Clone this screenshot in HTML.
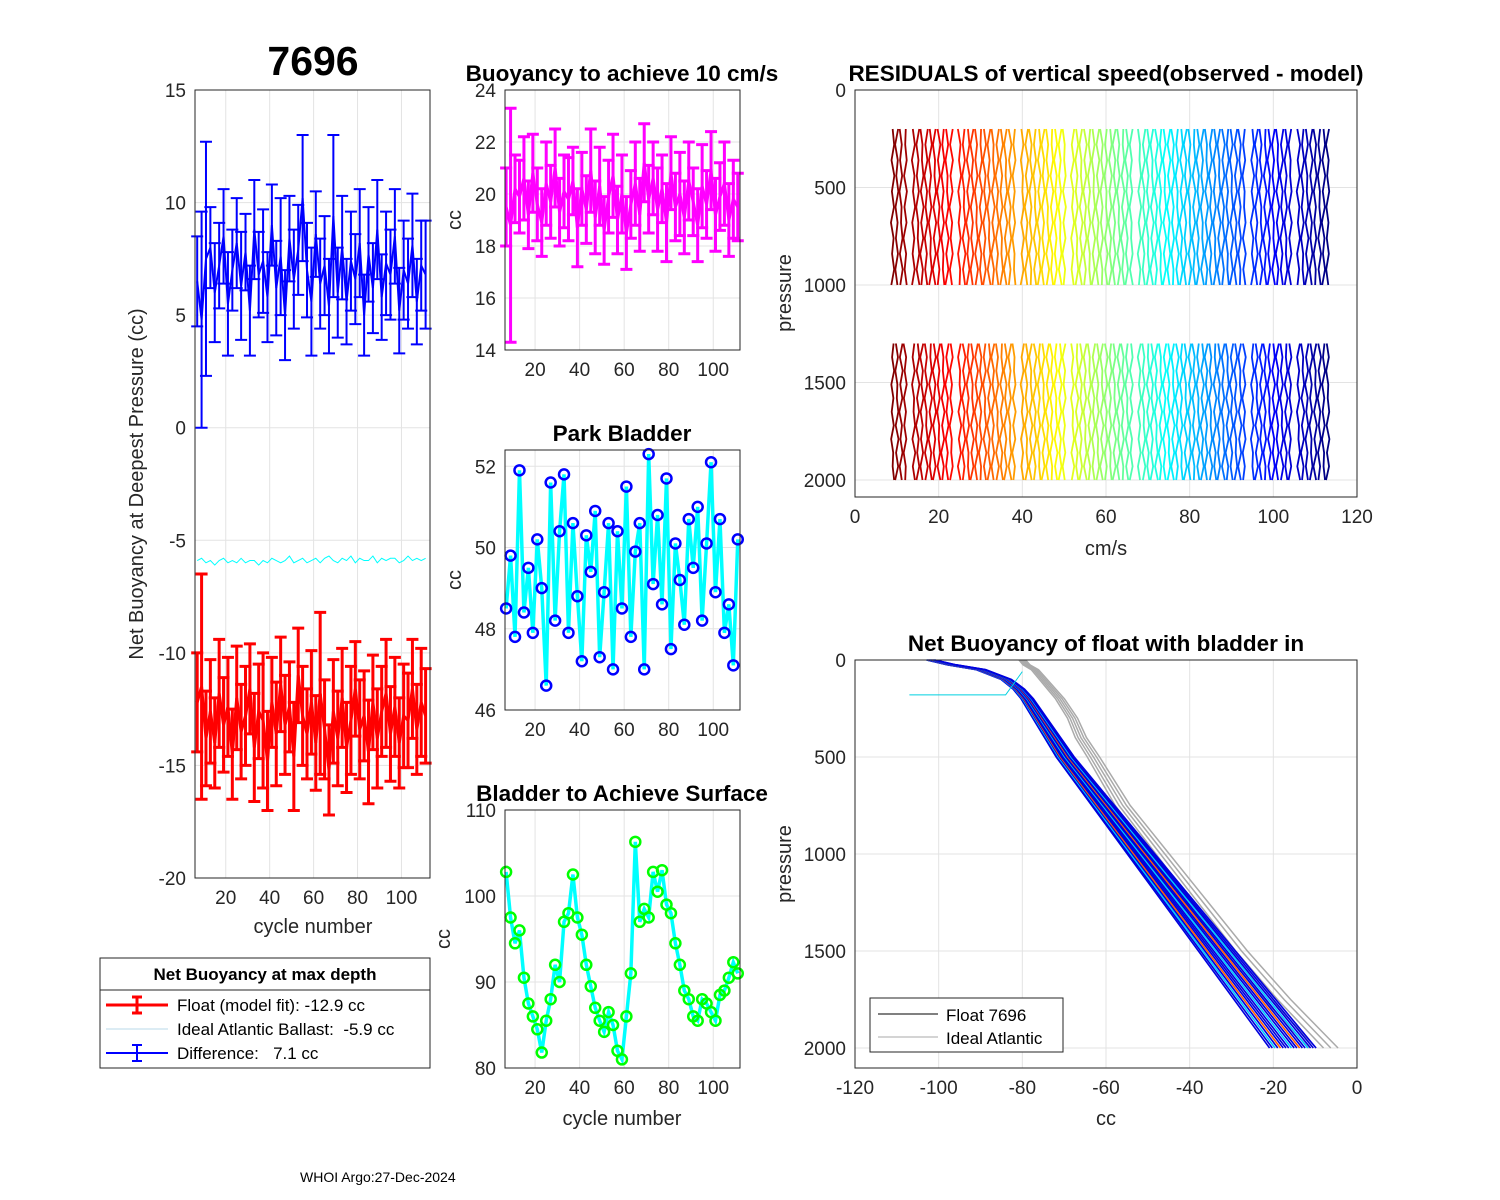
<!DOCTYPE html>
<html><head><meta charset="utf-8"><style>
html,body{margin:0;padding:0;background:#fff;}
svg{display:block;font-family:"Liberation Sans",Arial,sans-serif;}
.pre{white-space:pre;}
</style></head><body>
<svg id="fig" width="1500" height="1200" viewBox="0 0 1500 1200"></svg>
<script>
// ---------- DATA ----------
const cycles = [7,9,11,13,15,17,19,21,23,25,27,29,31,33,35,37,39,41,43,45,47,49,51,53,55,57,59,61,63,65,67,69,71,73,75,77,79,81,83,85,87,89,91,93,95,97,99,101,103,105,107,109,111];
const diffVals = [6.5,4.8,7.5,8.0,6.0,7.2,8.5,5.5,7.0,8.2,6.3,7.8,5.2,8.8,6.8,7.4,5.8,9.0,6.2,7.6,5.0,8.4,6.6,7.9,10.2,7.0,5.6,8.6,6.4,7.2,5.4,9.4,6.0,8.0,5.6,7.4,6.6,8.2,5.0,7.7,6.2,8.8,5.8,7.3,6.8,8.5,5.2,7.0,6.4,8.1,5.6,7.2,6.8];
const diffErr = [2.0,4.8,5.2,1.8,2.2,1.9,2.1,2.3,1.8,2.0,2.4,1.7,2.0,2.2,1.9,2.3,2.0,1.8,2.1,2.6,2.0,1.9,2.2,2.0,2.8,2.1,2.4,1.9,2.0,2.2,2.1,3.6,2.0,2.3,1.9,2.2,2.0,2.4,1.8,2.1,2.0,2.2,1.9,2.3,2.0,2.1,1.9,2.2,2.0,2.3,1.9,2.0,2.4];
const floatVals = [-12.2,-11.5,-13.8,-12.6,-14.0,-11.8,-13.2,-12.4,-14.5,-12.0,-13.5,-12.8,-11.6,-14.2,-12.6,-13.0,-14.8,-12.2,-13.6,-11.4,-13.2,-12.4,-14.6,-11.0,-12.8,-13.6,-12.2,-14.0,-11.8,-13.4,-15.2,-12.6,-13.8,-12.0,-14.2,-13.0,-11.6,-13.4,-12.8,-14.4,-12.2,-13.8,-12.6,-11.8,-13.6,-12.4,-14.0,-12.8,-13.0,-11.6,-13.4,-12.2,-12.8];
const floatErr = [2.2,5.0,2.1,2.3,2.0,2.4,2.1,2.2,2.0,2.3,2.1,2.2,2.0,2.4,2.1,3.0,2.2,2.0,2.3,2.1,2.2,2.0,2.4,2.1,2.2,2.0,2.3,2.1,3.6,2.2,2.0,2.3,2.1,2.2,2.0,2.4,2.1,2.2,2.0,2.3,2.1,2.2,2.0,2.4,2.1,2.2,2.0,2.3,2.1,2.2,2.0,2.4,2.1];
const idealVals = [-5.9,-5.8,-6.0,-5.9,-6.1,-5.9,-5.8,-6.0,-5.9,-6.0,-5.8,-6.0,-5.9,-5.9,-6.1,-5.9,-6.0,-5.8,-5.9,-6.0,-5.9,-5.7,-6.0,-5.9,-5.8,-6.0,-5.9,-5.8,-6.0,-5.8,-5.7,-5.9,-6.0,-5.8,-5.9,-5.7,-6.0,-5.8,-5.9,-5.9,-5.7,-6.0,-5.8,-5.9,-5.8,-5.8,-6.0,-5.9,-5.7,-5.9,-5.8,-5.9,-5.8];
const speedVals = [19.5,18.8,20.2,19.9,20.6,19.2,20.8,19.6,18.9,20.4,19.7,21.0,19.3,20.1,19.8,20.5,18.7,20.2,19.4,20.9,19.1,20.3,18.6,19.9,20.7,19.0,20.0,18.5,19.6,20.4,19.2,21.2,19.8,20.6,19.4,20.2,18.9,20.8,19.5,20.0,19.1,20.5,19.7,18.8,20.3,19.6,20.9,19.2,19.9,20.4,19.0,19.8,19.5];
const speedErr = [1.5,4.5,1.3,1.4,1.6,1.3,1.5,1.4,1.3,1.6,1.4,1.5,1.3,1.4,1.6,1.3,1.5,1.4,1.3,1.6,1.4,1.5,1.3,1.4,1.6,1.3,1.5,1.4,1.3,1.6,1.4,1.5,1.3,1.4,1.6,1.3,1.5,1.4,1.3,1.6,1.4,1.5,1.3,1.4,1.6,1.3,1.5,1.4,1.3,1.6,1.4,1.5,1.3];
const parkVals = [48.5,49.8,47.8,51.9,48.4,49.5,47.9,50.2,49.0,46.6,51.6,48.2,50.4,51.8,47.9,50.6,48.8,47.2,50.3,49.4,50.9,47.3,48.9,50.6,47.0,50.4,48.5,51.5,47.8,49.9,50.6,47.0,52.3,49.1,50.8,48.6,51.7,47.5,50.1,49.2,48.1,50.7,49.5,51.0,48.2,50.1,52.1,48.9,50.7,47.9,48.6,47.1,50.2];
const surfVals = [102.8,97.5,94.5,96.0,90.5,87.5,86.0,84.5,81.8,85.5,88.0,92.0,90.0,97.0,98.0,102.5,97.5,95.5,92.0,89.5,87.0,85.5,84.2,86.5,85.0,82.0,81.0,86.0,91.0,106.3,97.0,98.5,97.5,102.8,100.5,103.0,99.0,98.0,94.5,92.0,89.0,88.0,86.0,85.5,88.0,87.5,86.5,85.5,88.5,89.0,90.5,92.3,91.0];
// residuals panel
const resCycles = [9,10,11,12,14,15,16,17,18,19,20,21,22,23,25,26,27,28,29,30,31,32,33,34,35,36,37,38,40,41,42,43,44,45,46,47,48,49,50,52,53,54,55,56,57,58,59,60,61,62,63,64,65,66,68,69,70,71,72,73,74,75,76,77,78,79,80,81,82,83,84,85,86,87,88,89,90,91,92,93,95,96,97,98,99,100,101,102,103,104,106,107,108,109,110,111,112,113];
const resPresA = [200,280,360,440,520,600,680,760,840,920,1000];
const resPresB = [1300,1370,1440,1510,1580,1650,1720,1790,1860,1930,2000];
const resWiggle = [0,0.8,-0.6,0.9,-0.4,0.7,-0.9,0.5,-0.3,0.8,-0.7,0.4,-0.5,0.6,-0.8,0.3];
// net buoyancy profile panel
const profPres = [0,25,50,100,150,200,300,400,500,750,1000,1250,1500,1750,2000];
const floatCC = [-102,-97,-90,-84,-81,-79,-76,-73,-70,-61,-52,-43,-34,-25,-16];
const idealCC = [-80,-79,-77,-75,-73,-71,-68,-66,-63,-56,-47,-38,-29,-19,-8];
const floatOffsets = [-3,-2.6,-2.2,-1.8,-1.4,-1,-0.6,-0.2,0.2,0.6,1,1.4,1.8,2.2,2.6,3,3.4,3.8];
const idealOffsets = [-2,-1,0,1,2];
const outlierPres = [180,180,120,60];
const outlierCC = [-107,-84,-82,-80];
const yT1=[-20,-15,-10,-5,0,5,10,15], xT=[20,40,60,80,100];

// ---------- HELPERS ----------
const NS="http://www.w3.org/2000/svg";
const svg=document.getElementById('fig');
function mk(tag,attrs,parent,text){const e=document.createElementNS(NS,tag);for(const k in attrs)e.setAttribute(k,attrs[k]);if(text!==undefined)e.textContent=text;(parent||svg).appendChild(e);return e;}
function lin(d0,d1,r0,r1){return v=>r0+(v-d0)/(d1-d0)*(r1-r0);}
function jet(t){const r=Math.min(Math.max(1.5-Math.abs(4*t-3),0),1),g=Math.min(Math.max(1.5-Math.abs(4*t-2),0),1),b=Math.min(Math.max(1.5-Math.abs(4*t-1),0),1);return `rgb(${Math.round(r*255)},${Math.round(g*255)},${Math.round(b*255)})`;}
function axes(name,L,T,W,H,xs,ys,xticks,yticks){
  const g=mk('g',{});  
  mk('rect',{x:L,y:T,width:W,height:H,fill:'#fff'},g);
  const grid=mk('g',{stroke:'#e3e3e3','stroke-width':1},g);
   
  xticks.forEach(v=>{const x=xs(v);mk('line',{x1:x,x2:x,y1:T,y2:T+H},grid);
    const t=mk('text',{x:x,y:T+H+26,'text-anchor':'middle','font-size':19,fill:'#262626'},g,String(v));
     });
  yticks.forEach(v=>{const y=ys(v);mk('line',{x1:L,x2:L+W,y1:y,y2:y},grid);
    const t=mk('text',{x:L-9,y:y+7,'text-anchor':'end','font-size':19,fill:'#262626'},g,String(v));
     });
  const plot=mk('g',{},g);  
  const box=mk('rect',{x:L,y:T,width:W,height:H,fill:'none',stroke:'#262626','stroke-width':1},g);
   
  return {g,plot,box};
}
function label(txt,x,y,size,bold,rot,name){const a={x:x,y:y,'text-anchor':'middle','font-size':size,fill:bold?'#000':'#262626'};if(bold)a['font-weight']='bold';if(rot)a.transform=`rotate(-90 ${x} ${y})`;const t=mk('text',a,svg,txt);return t;}
function errSeries(plot,xs,ys,xv,yv,ev,color,lw,cap,name){
  const grp=mk('g',{stroke:color,'stroke-width':lw,fill:'none'},plot);
   
  const n=Math.min(xv.length,yv.length,ev.length);let d='';
  for(let i=0;i<n;i++){const x=xs(xv[i]),y0=ys(yv[i]-ev[i]),y1=ys(yv[i]+ev[i]);
    mk('path',{d:`M${x},${y0}V${y1}M${x-cap},${y0}H${x+cap}M${x-cap},${y1}H${x+cap}`},grp);
    d+=(i?'L':'M')+x+','+ys(yv[i]);}
  mk('path',{d:d},grp);
}
function lineSeries(plot,xs,ys,xv,yv,color,lw,name){const n=Math.min(xv.length,yv.length);let d='';for(let i=0;i<n;i++)d+=(i?'L':'M')+xs(xv[i])+','+ys(yv[i]);const p=mk('path',{d:d,stroke:color,'stroke-width':lw,fill:'none'},plot);return p;}
function markers(plot,xs,ys,xv,yv,color,name){const grp=mk('g',{stroke:color,'stroke-width':2.5,fill:'none'},plot);const n=Math.min(xv.length,yv.length);for(let i=0;i<n;i++)mk('circle',{cx:xs(xv[i]),cy:ys(yv[i]),r:5},grp);}

// ---------- PANEL 1 ----------
{const xs=lin(6,113,195,430),ys=lin(-20,15,878,90);
 const a=axes('net-buoyancy-axes',195,90,235,788,xs,ys,xT,yT1);
 errSeries(a.plot,xs,ys,cycles,diffVals,diffErr,'#0000ff',2,6,'difference-series');
 errSeries(a.plot,xs,ys,cycles,floatVals,floatErr,'#ff0000',3,6,'float-series');
 lineSeries(a.plot,xs,ys,cycles,idealVals,'#00ffff',1,'ideal-ballast-series');
 label('7696',313,75,41,true,false,'float-id-title');
 label('Net Buoyancy at Deepest Pressure (cc)',143,484,20,false,true,'y-axis-title');
 label('cycle number',313,933,20,false,false,'x-axis-title');}
// ---------- PANEL 2 ----------
const xs2=lin(6.5,112,505,740);
{const ys=lin(14,24,350,90);
 const a=axes('speed-buoyancy-axes',505,90,235,260,xs2,ys,xT,[14,16,18,20,22,24]);
 errSeries(a.plot,xs2,ys,cycles,speedVals,speedErr,'#ff00ff',3,6,'speed-buoyancy-series');
 label('Buoyancy to achieve 10 cm/s',622,81,22.5,true,false,'speed-title');
 label('cc',461,220,20,false,true,'speed-y-title');}
// ---------- PANEL 3 ----------
{const ys=lin(46,52.4,710,450);
 const a=axes('park-bladder-axes',505,450,235,260,xs2,ys,xT,[46,48,50,52]);
 lineSeries(a.plot,xs2,ys,cycles,parkVals,'#00ffff',3.5,'park-line');
 markers(a.plot,xs2,ys,cycles,parkVals,'#0000ff','park-markers');
 label('Park Bladder',622,441,22.5,true,false,'park-title');
 label('cc',461,580,20,false,true,'park-y-title');}
// ---------- PANEL 4 ----------
{const ys=lin(80,110,1068,810);
 const a=axes('surface-bladder-axes',505,810,235,258,xs2,ys,xT,[80,90,100,110]);
 lineSeries(a.plot,xs2,ys,cycles,surfVals,'#00ffff',3.5,'surface-line');
 markers(a.plot,xs2,ys,cycles,surfVals,'#00ff00','surface-markers');
 label('Bladder to Achieve Surface',622,801,22.5,true,false,'surface-title');
 label('cc',450,939,20,false,true,'surface-y-title');
 label('cycle number',622,1125,20,false,false,'surface-x-title');}
// ---------- PANEL 5 ----------
{const xs=lin(0,120,855,1357),ys=lin(0,2087,90,497);
 const a=axes('residuals-axes',855,90,502,407,xs,ys,[0,20,40,60,80,100,120],[0,500,1000,1500,2000]);
 resCycles.forEach((c,i)=>{const col=jet(1-i/(resCycles.length-1));
   [resPresA,resPresB].forEach((pp,k)=>{let d='';pp.forEach((p,j)=>{const w=resWiggle[(j+i*5+k*7)%resWiggle.length];d+=(j?'L':'M')+xs(c+w*0.45)+','+ys(p);});
     const pth=mk('path',{d:d,stroke:col,'stroke-width':1.8,fill:'none'},a.plot);
     
     });});
 label('RESIDUALS of vertical speed(observed - model)',1106,81,22.5,true,false,'residuals-title');
 label('pressure',791,293,20,false,true,'residuals-y-title');
 label('cm/s',1106,555,20,false,false,'residuals-x-title');}
// ---------- PANEL 6 ----------
{const xs=lin(-120,0,855,1357),ys=lin(0,2103,660,1068);
 const a=axes('profile-axes',855,660,502,408,xs,ys,[-120,-100,-80,-60,-40,-20,0],[0,500,1000,1500,2000]);
 idealOffsets.forEach(o=>{lineSeries(a.plot,xs,ys,idealCC.map((v,j)=>v+o*(0.4+profPres[j]/1500)),profPres,'#aaaaaa',1.5,'ideal-profile');});
 floatOffsets.forEach((o,i)=>{const col=i%6===2?'#00c8ff':(i%7===4?'#ff6000':'#0000dd');
   lineSeries(a.plot,xs,ys,floatCC.map((v,j)=>v+o*(0.3+profPres[j]/1500)),profPres,col,1.6,'float-profile');});
 lineSeries(a.plot,xs,ys,outlierCC,outlierPres,'#00d0e0',1,'float-profile-outlier');
 const lg=mk('g',{});
 mk('rect',{x:870,y:998,width:193,height:54,fill:'#fff',stroke:'#262626','stroke-width':1},lg);
 mk('line',{x1:878,x2:938,y1:1014,y2:1014,stroke:'#000','stroke-width':1},lg);
 mk('line',{x1:878,x2:938,y1:1037,y2:1037,stroke:'#aaa','stroke-width':1},lg);
 mk('text',{x:946,y:1021,'font-size':17,fill:'#000'},lg,'Float 7696');
 mk('text',{x:946,y:1044,'font-size':17,fill:'#000'},lg,'Ideal Atlantic');
 label('Net Buoyancy of float with bladder in',1106,651,22.5,true,false,'profile-title');
 label('pressure',791,864,20,false,true,'profile-y-title');
 label('cc',1106,1125,20,false,false,'profile-x-title');}
// ---------- LEGEND ----------
{const lg=mk('g',{});
 mk('rect',{x:100,y:958,width:330,height:110,fill:'#fff',stroke:'#262626','stroke-width':1},lg);
 mk('line',{x1:100,x2:430,y1:990,y2:990,stroke:'#262626','stroke-width':1},lg);
 mk('text',{x:265,y:980,'text-anchor':'middle','font-size':17,'font-weight':'bold',fill:'#000'},lg,'Net Buoyancy at max depth');
 mk('path',{d:'M106,1005H168M137,997V1013M132,997H142M132,1013H142',stroke:'#f00','stroke-width':3,fill:'none'},lg);
 mk('line',{x1:106,x2:168,y1:1029,y2:1029,stroke:'#b8d8e8',"stroke-width":1},lg);
 mk('path',{d:'M106,1053H168M137,1045V1061M132,1045H142M132,1061H142',stroke:'#00f','stroke-width':2,fill:'none'},lg);
 mk('text',{x:177,y:1011,'font-size':17,fill:'#000','class':'pre'},lg,'Float (model fit): -12.9 cc');
 mk('text',{x:177,y:1035,'font-size':17,fill:'#000','class':'pre'},lg,'Ideal Atlantic Ballast:  -5.9 cc');
 mk('text',{x:177,y:1059,'font-size':17,fill:'#000','class':'pre'},lg,'Difference:   7.1 cc');}
{const t=mk('text',{x:300,y:1182,'font-size':14,fill:'#000'},svg,'WHOI Argo:27-Dec-2024');
 
 }
</script>
</body></html>
